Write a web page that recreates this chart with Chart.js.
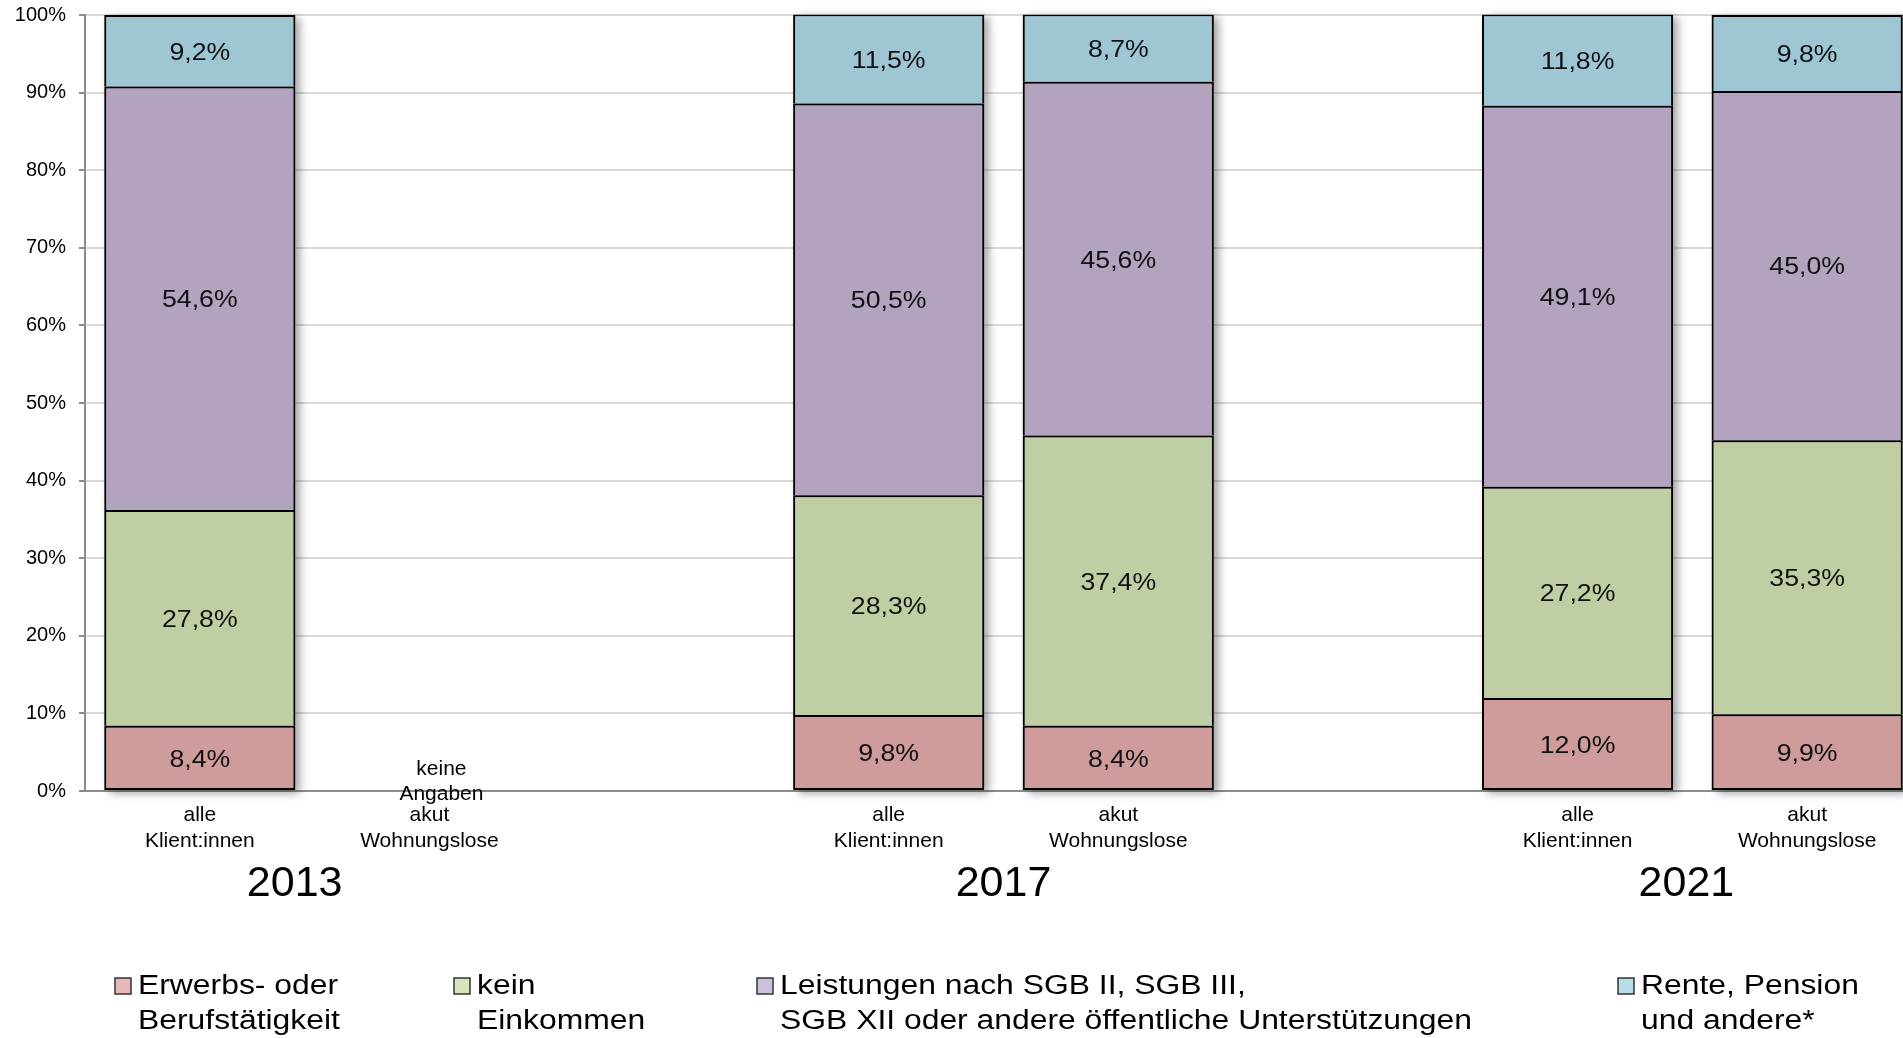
<!DOCTYPE html>
<html>
<head>
<meta charset="utf-8">
<script src="https://cdn.jsdelivr.net/npm/chart.js@4.4.1/dist/chart.umd.min.js"></script>
<style>
  html, body { margin: 0; padding: 0; background: #ffffff; overflow: hidden; }
  #wrap { position: absolute; left: 0; top: 0; width: 1922px; height: 1038px; }
</style>
</head>
<body>
<div id="wrap"><canvas id="c" width="1922" height="1038"></canvas></div>
<script>
// Categories: two groups per survey year, with an empty slot between years
const categories = [
  ['alle', 'Klient:innen'], ['akut', 'Wohnungslose'], '',
  ['alle', 'Klient:innen'], ['akut', 'Wohnungslose'], '',
  ['alle', 'Klient:innen'], ['akut', 'Wohnungslose']
];
const years = ['2013', '2017', '2021'];
const yearFirstIndex = [0, 3, 6];

// Income sources, shares in percent
const erwerbs       = [8.4,  null, null, 9.8,  8.4,  null, 12.0, 9.9];
const keinEinkommen = [27.8, null, null, 28.3, 37.4, null, 27.2, 35.3];
const leistungen    = [54.6, null, null, 50.5, 45.6, null, 49.1, 45.0];
const rente         = [9.2,  null, null, 11.5, 8.7,  null, 11.8, 9.8];

const seriesNames = [
  ['Erwerbs- oder', 'Berufstätigkeit'],
  ['kein', 'Einkommen'],
  ['Leistungen nach SGB II, SGB III,', 'SGB XII oder andere öffentliche Unterstützungen'],
  ['Rente, Pension', 'und andere*']
];
const yTickValues = [0, 10, 20, 30, 40, 50, 60, 70, 80, 90, 100];
const missingIndex = 1;
const missingNote = ['keine', 'Angaben'];

const FONT = "'Liberation Sans', Arial, Helvetica, sans-serif";
const barFill    = ['#cf9b9b', '#bfcfa3', '#b2a4bf', '#9fc6d3'];
const legendFill = ['#e6b9b8', '#d7e4bd', '#ccc1da', '#b7dee8'];
const legendX = [115, 454, 757, 1618];
const yearShift = [-20, 0, -6];

const fmt = v => v.toFixed(1).replace('.', ',') + '%';

// text drawn slightly widened, like the rest of the figure's lettering
function wideText(ctx, text, x, y, sx) {
  ctx.save();
  ctx.translate(x, y);
  ctx.scale(sx, 1);
  ctx.fillText(text, 0, 0);
  ctx.restore();
}

// soft drop shadow behind each stacked column
const shadowPlugin = {
  id: 'columnShadow',
  beforeDatasetsDraw(chart) {
    const ctx = chart.ctx;
    const n = chart.data.datasets.length;
    const bottomMeta = chart.getDatasetMeta(0);
    const topMeta = chart.getDatasetMeta(n - 1);
    ctx.save();
    ctx.beginPath();
    ctx.rect(chart.chartArea.left, 0, chart.width, chart.chartArea.bottom + 12);
    ctx.clip();
    bottomMeta.data.forEach((el, i) => {
      if (chart.data.datasets[0].data[i] == null) return;
      const top = topMeta.data[i];
      const w = el.width;
      ctx.shadowColor = 'rgba(0,0,0,0.38)';
      ctx.shadowBlur = 9;
      ctx.shadowOffsetX = 5;
      ctx.shadowOffsetY = 3;
      ctx.fillStyle = '#999';
      ctx.fillRect(el.x - w / 2, top.y, w, el.base - top.y);
    });
    ctx.restore();
  }
};

// value labels centred in each segment
const valueLabelPlugin = {
  id: 'valueLabels',
  afterDatasetsDraw(chart) {
    const ctx = chart.ctx;
    ctx.save();
    ctx.font = '23px ' + FONT;
    ctx.fillStyle = '#111';
    ctx.textAlign = 'center';
    ctx.textBaseline = 'middle';
    chart.data.datasets.forEach((ds, di) => {
      chart.getDatasetMeta(di).data.forEach((el, i) => {
        const v = ds.data[i];
        if (v == null) return;
        wideText(ctx, fmt(v), el.x, (el.y + el.base) / 2 + 2.5, 1.16);
      });
    });
    ctx.restore();
  }
};

// year group labels, note for the missing column and the legend
const annotationPlugin = {
  id: 'annotations',
  afterDraw(chart) {
    const ctx = chart.ctx;
    const x = chart.scales.x;
    ctx.save();
    ctx.fillStyle = '#000';
    ctx.textAlign = 'center';
    ctx.textBaseline = 'middle';

    ctx.font = '43px ' + FONT;
    years.forEach((yr, k) => {
      const i = yearFirstIndex[k];
      const cx = (x.getPixelForValue(i) + x.getPixelForValue(i + 1)) / 2 + yearShift[k];
      ctx.fillText(yr, cx, 884);
    });

    ctx.font = '20px ' + FONT;
    const mx = x.getPixelForValue(missingIndex) + 12;
    missingNote.forEach((line, k) => wideText(ctx, line, mx, 769 + k * 25, 1.05));

    ctx.textAlign = 'left';
    ctx.font = '27px ' + FONT;
    seriesNames.forEach((lines, k) => {
      const lx = legendX[k];
      ctx.fillStyle = legendFill[k];
      ctx.fillRect(lx, 978, 16, 16);
      ctx.strokeStyle = '#333';
      ctx.lineWidth = 1.5;
      ctx.strokeRect(lx, 978, 16, 16);
      ctx.fillStyle = '#000';
      lines.forEach((line, j) => wideText(ctx, line, lx + 23, 987 + j * 35, 1.18));
    });
    ctx.restore();
  }
};

const seriesData = [erwerbs, keinEinkommen, leistungen, rente];
const datasets = seriesData.map((d, k) => ({
  label: seriesNames[k].join(' '),
  data: d,
  backgroundColor: barFill[k],
  borderColor: '#000',
  borderWidth: 2,
  borderSkipped: k === 0 ? false : 'start',
  barPercentage: 0.832,
  categoryPercentage: 1.0
}));

new Chart(document.getElementById('c'), {
  type: 'bar',
  data: { labels: categories, datasets },
  options: {
    responsive: false,
    animation: false,
    layout: { padding: { top: 15, left: 0, right: 0, bottom: 0 } },
    plugins: { legend: { display: false }, tooltip: { enabled: false } },
    scales: {
      x: {
        stacked: true,
        grid: { display: false, drawTicks: false },
        border: { display: true, color: '#8c8c8c', width: 2 },
        ticks: {
          font: { family: FONT, size: 21 },
          color: '#000',
          padding: 12,
          maxRotation: 0,
          autoSkip: false
        },
        afterFit(scale) {
          scale.height = 247;
          scale.paddingLeft = 0;
          scale.paddingRight = 0;
        }
      },
      y: {
        stacked: true,
        min: 0,
        max: 100,
        afterBuildTicks(scale) { scale.ticks = yTickValues.map(v => ({ value: v })); },
        grid: { color: '#d9d9d9', lineWidth: 2, tickLength: 6, tickColor: '#8c8c8c' },
        border: { display: true, color: '#8c8c8c', width: 2 },
        ticks: {
          font: { family: FONT, size: 20 },
          color: '#000',
          padding: 13,
          callback: v => v + '%'
        },
        afterFit(scale) {
          scale.width = 85;
          scale.paddingTop = 0;
          scale.paddingBottom = 0;
        }
      }
    }
  },
  plugins: [shadowPlugin, valueLabelPlugin, annotationPlugin]
});
</script>
</body>
</html>
